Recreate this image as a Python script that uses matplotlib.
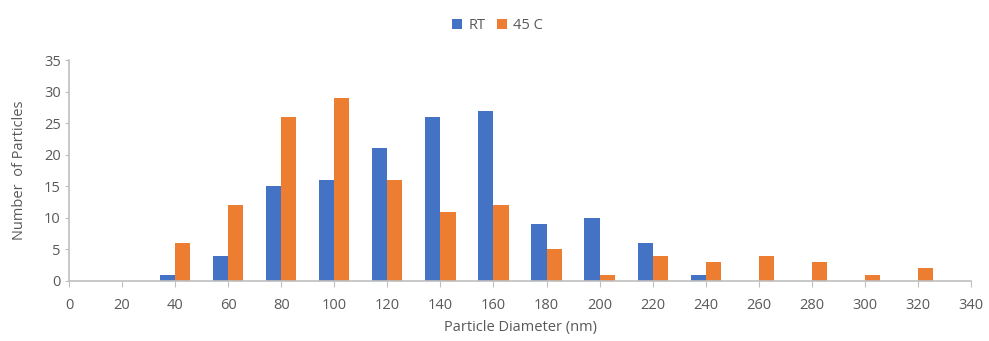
import numpy as np
import matplotlib
matplotlib.use("Agg")
from matplotlib import pyplot as plt

# particle size histogram data
diameters = [40, 60, 80, 100, 120, 140, 160, 180, 200, 220, 240, 260, 280, 300, 320]
rt_counts = [1, 4, 15, 16, 21, 26, 27, 9, 10, 6, 1, 0, 0, 0, 0]
c45_counts = [6, 12, 26, 29, 16, 11, 12, 5, 1, 4, 3, 4, 3, 1, 2]
xticks = list(range(0, 341, 20))
yticks = list(range(0, 36, 5))

plt.rcParams['font.family'] = ['Open Sans', 'DejaVu Sans']
txt = '#595959'

fig = plt.figure(figsize=(9.89, 3.41), dpi=100)
ax = fig.add_axes([0.0698, 0.176, 0.912, 0.648])

w = 5.7
x = np.array(diameters)
ax.bar(x - w/2, rt_counts, width=w, color='#4472C4', label='RT')
ax.bar(x + w/2, c45_counts, width=w, color='#ED7D31', label='45 C')

ax.set_xlim(0, 340)
ax.set_ylim(0, 35)
ax.set_xticks(xticks)
ax.set_yticks(yticks)
for s in ['top', 'right']:
    ax.spines[s].set_visible(False)
for s in ['left', 'bottom']:
    ax.spines[s].set_color('#BFBFBF')
    ax.spines[s].set_linewidth(1.2)
ax.tick_params(axis='x', colors='#BFBFBF', labelcolor=txt, labelsize=10.5, length=4, pad=8)
ax.tick_params(axis='y', colors='#BFBFBF', labelcolor=txt, labelsize=10.5, length=3, pad=3)

ax.set_xlabel('Particle Diameter (nm)', color=txt, fontsize=10.5, labelpad=5)
ax.set_ylabel('Number  of Particles', color=txt, fontsize=10.5, labelpad=12)

fig.legend(loc='upper center', bbox_to_anchor=(0.503, 0.985), ncol=2, frameon=False,
           fontsize=10.5, labelcolor=txt, handlelength=0.7, handleheight=0.7,
           handletextpad=0.4, columnspacing=0.8)

fig.savefig('out.png', dpi=100)
